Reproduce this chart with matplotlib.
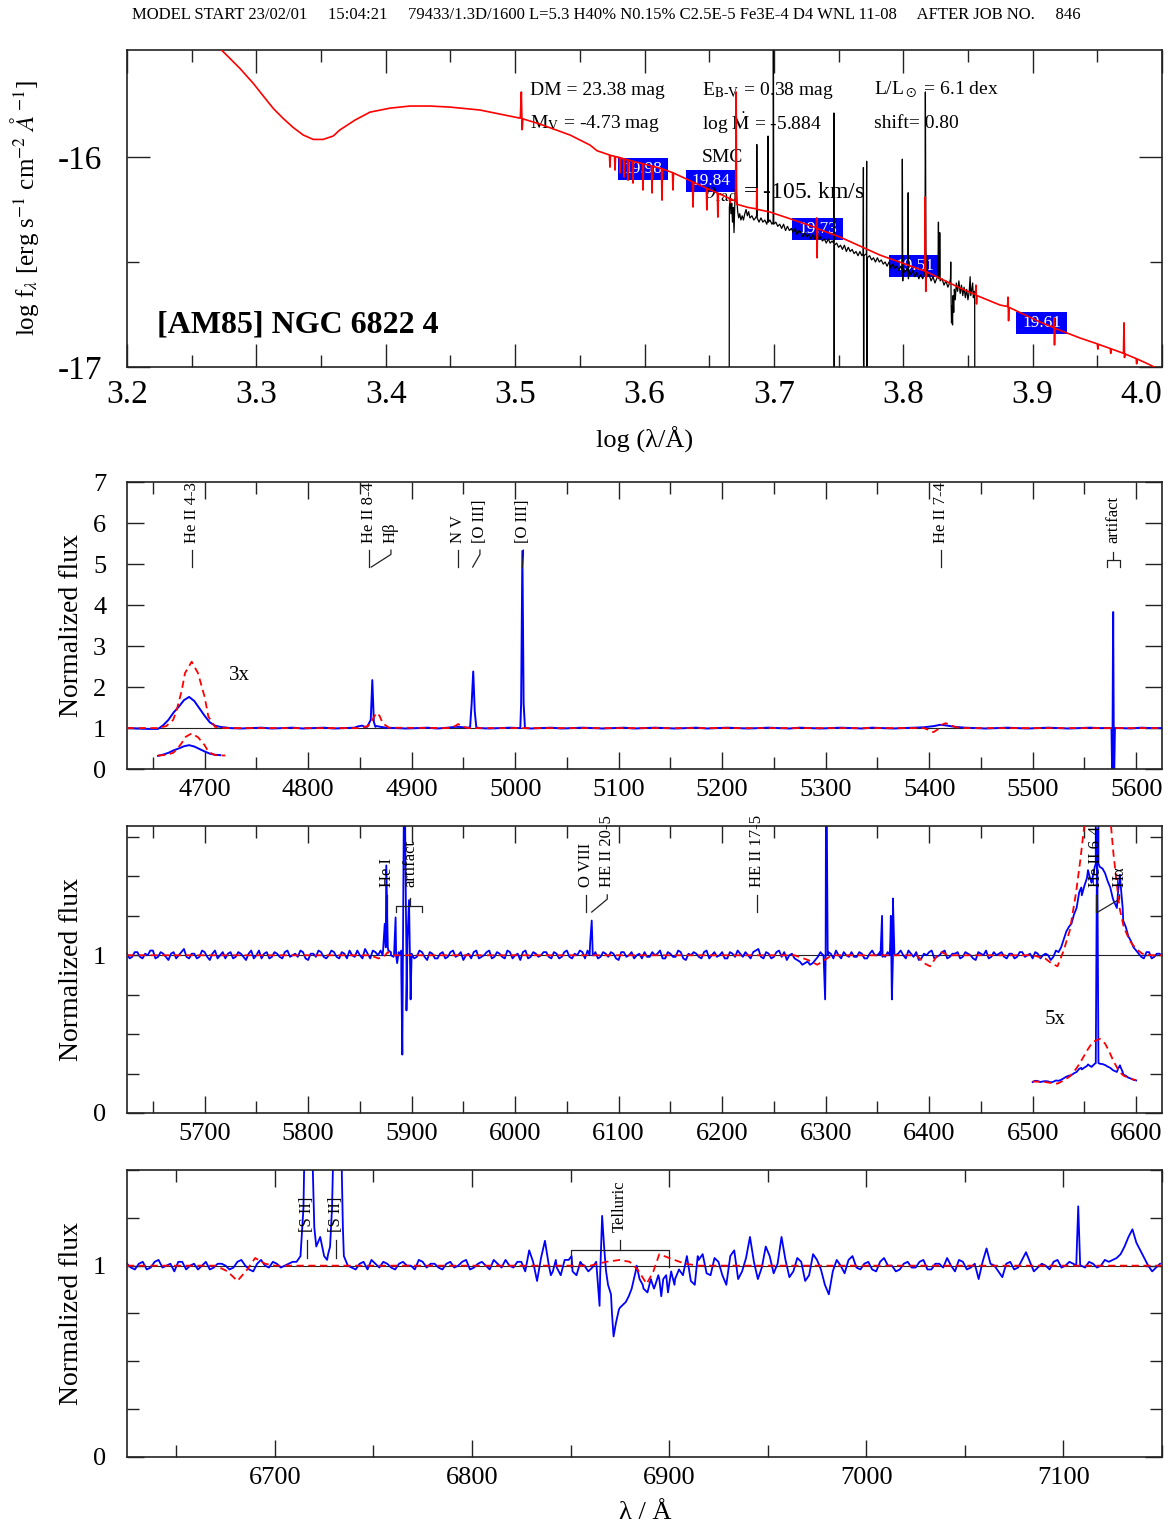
import matplotlib.pyplot as plt
from matplotlib.patches import Rectangle
import numpy as np

plt.rcParams['font.family'] = ['Liberation Serif', 'DejaVu Serif']
plt.rcParams['mathtext.fontset'] = 'stix'
plt.rcParams['axes.unicode_minus'] = False

HEADER = ("MODEL START 23/02/01     15:04:21     79433/1.3D/1600 L=5.3 H40% N0.15% "
          "C2.5E-5 Fe3E-4 D4 WNL 11-08     AFTER JOB NO.     846")
STAR = "[AM85] NGC 6822 4"

# ---------------- SED panel (log lambda, log f_lambda)
sed_logl = [3.2600, 3.2732, 3.2873, 3.2976, 3.3079, 3.3130, 3.3207, 3.3284, 3.3362, 3.3439,
            3.3516, 3.3593, 3.3645, 3.3762, 3.3878, 3.4033, 3.4187, 3.4342, 3.4497, 3.4728,
            3.4960, 3.5040, 3.5048, 3.5054, 3.5060, 3.5192, 3.5424, 3.5579, 3.5633,
            3.5729, 3.5733, 3.5737, 3.5768, 3.5772, 3.5776, 3.5807, 3.5811, 3.5815,
            3.5838, 3.5842, 3.5846, 3.5869, 3.5873, 3.5877, 3.5907, 3.5911, 3.5915,
            3.5984, 3.5988, 3.5992, 3.6054, 3.6058, 3.6062, 3.6131, 3.6135, 3.6139,
            3.6216, 3.6220, 3.6224, 3.6371, 3.6375, 3.6379, 3.6478, 3.6482, 3.6486,
            3.6563, 3.6567, 3.6571, 3.6656, 3.6660, 3.6664, 3.6704, 3.6708, 3.6712,
            3.6738, 3.6800, 3.6866, 3.6868, 3.6870, 3.6970, 3.7202,
            3.7328, 3.7331, 3.7334, 3.7337, 3.7511, 3.7820, 3.8129,
            3.8166, 3.8170, 3.8174, 3.8178, 3.8439, 3.8558, 3.8562, 3.8566, 3.8570,
            3.8748, 3.8806, 3.8810, 3.8814, 3.8818, 3.9057, 3.9161, 3.9165, 3.9169, 3.9173,
            3.9366, 3.9500, 3.9504, 3.9508, 3.9600, 3.9604, 3.9608,
            3.9702, 3.9706, 3.9710, 3.9714, 3.9800, 3.9804, 3.9808, 3.9907, 4.0000]
sed_logf = [-15.400, -15.491, -15.578, -15.649, -15.729, -15.768, -15.816, -15.859, -15.895, -15.916,
            -15.916, -15.900, -15.871, -15.824, -15.786, -15.767, -15.757, -15.757, -15.762, -15.776,
            -15.805, -15.815, -15.690, -15.870, -15.818, -15.843, -15.895, -15.943, -15.970,
            -15.990, -16.048, -15.992, -15.996, -16.062, -15.998, -16.002, -16.076, -16.004,
            -16.008, -16.095, -16.010, -16.013, -16.110, -16.015, -16.019, -16.124, -16.021,
            -16.031, -16.157, -16.033, -16.042, -16.171, -16.044, -16.055, -16.205, -16.057,
            -16.074, -16.157, -16.076, -16.118, -16.238, -16.120, -16.148, -16.252, -16.150,
            -16.171, -16.286, -16.173, -16.197, -16.219, -16.199, -16.210, -15.690, -16.225,
            -16.229, -16.240, -16.247, -16.150, -16.249, -16.262, -16.310,
            -16.337, -16.290, -16.480, -16.341, -16.381, -16.467, -16.535,
            -16.543, -16.190, -16.640, -16.546, -16.624, -16.655, -16.610, -16.700, -16.660,
            -16.705, -16.712, -16.667, -16.780, -16.716, -16.786, -16.812, -16.767, -16.895, -16.816,
            -16.862, -16.890, -16.915, -16.892, -16.912, -16.935, -16.914,
            -16.935, -16.790, -16.955, -16.938, -16.960, -16.985, -16.962, -16.990, -17.020]

obs_logl = [3.6654, 3.6656, 3.6662, 3.6668, 3.6674, 3.6680, 3.6686, 3.6692, 3.6698, 3.6704,
            3.6708, 3.6713, 3.6720, 3.6728, 3.6736, 3.6745, 3.6755, 3.6765, 3.6775, 3.6785,
            3.6795, 3.6805, 3.6815, 3.6830, 3.6845, 3.6858, 3.6866, 3.6868, 3.6871, 3.6885,
            3.6900, 3.6915, 3.6930, 3.6945, 3.6953, 3.6955, 3.6958, 3.6970, 3.6985, 3.6994,
            3.6996, 3.6999, 3.7015, 3.7030, 3.7045, 3.7060, 3.7075, 3.7090, 3.7105, 3.7120,
            3.7135, 3.7150, 3.7165, 3.7180, 3.7195, 3.7210, 3.7225, 3.7240, 3.7255, 3.7270,
            3.7285, 3.7300, 3.7315, 3.7331, 3.7345, 3.7360, 3.7375, 3.7390, 3.7405, 3.7420,
            3.7435, 3.7450, 3.7462, 3.7464, 3.7466, 3.7468, 3.7485, 3.7500, 3.7515, 3.7530,
            3.7545, 3.7560, 3.7575, 3.7590, 3.7605, 3.7620, 3.7635, 3.7650, 3.7665, 3.7680,
            3.7690, 3.7692, 3.7694, 3.7696, 3.7715, 3.7717, 3.7719, 3.7721, 3.7740, 3.7755,
            3.7770, 3.7785, 3.7800, 3.7815, 3.7830, 3.7845, 3.7860, 3.7875, 3.7890, 3.7905,
            3.7920, 3.7935, 3.7950, 3.7965, 3.7980, 3.7991, 3.7993, 3.7996, 3.7999, 3.8015,
            3.8030, 3.8036, 3.8038, 3.8040, 3.8043, 3.8060, 3.8075, 3.8090, 3.8105, 3.8120,
            3.8135, 3.8150, 3.8163, 3.8168, 3.8171, 3.8175, 3.8180, 3.8184, 3.8187, 3.8200,
            3.8215, 3.8230, 3.8245, 3.8258, 3.8268, 3.8272, 3.8275, 3.8280, 3.8282, 3.8285,
            3.8300, 3.8315, 3.8330, 3.8345, 3.8358, 3.8365, 3.8367, 3.8370, 3.8373, 3.8377,
            3.8381, 3.8385, 3.8390, 3.8395, 3.8402, 3.8410, 3.8420, 3.8430, 3.8440, 3.8450,
            3.8460, 3.8470, 3.8480, 3.8490, 3.8500, 3.8510, 3.8517, 3.8522, 3.8530, 3.8536,
            3.8542, 3.8548, 3.8552, 3.8554]
obs_logf = [-17.60, -16.24, -16.20, -16.27, -16.22, -16.31, -16.24, -16.36, -16.22, -16.17,
            -16.12, -16.19, -16.26, -16.29, -16.27, -16.30, -16.28, -16.30, -16.27, -16.25,
            -16.28, -16.26, -16.29, -16.28, -16.30, -16.29, -16.28, -15.94, -16.29, -16.31,
            -16.29, -16.31, -16.30, -16.32, -16.30, -15.90, -16.31, -16.30, -16.32, -16.31,
            -15.30, -16.32, -16.31, -16.33, -16.32, -16.34, -16.32, -16.35, -16.33, -16.35,
            -16.34, -16.36, -16.34, -16.37, -16.35, -16.36, -16.38, -16.36, -16.38, -16.37,
            -16.39, -16.37, -16.39, -16.35, -16.39, -16.38, -16.40, -16.39, -16.41, -16.39,
            -16.41, -16.40, -16.41, -15.79, -17.60, -16.42, -16.41, -16.43, -16.42, -16.44,
            -16.42, -16.45, -16.43, -16.45, -16.44, -16.46, -16.45, -16.47, -16.45, -16.47,
            -16.46, -16.05, -17.60, -16.47, -16.46, -16.02, -17.60, -16.48, -16.47, -16.49,
            -16.48, -16.50, -16.48, -16.50, -16.49, -16.51, -16.50, -16.52, -16.50, -16.53,
            -16.51, -16.53, -16.52, -16.54, -16.52, -16.54, -16.01, -16.59, -16.53, -16.55,
            -16.53, -16.55, -16.17, -16.58, -16.54, -16.56, -16.54, -16.57, -16.55, -16.58,
            -16.56, -16.58, -16.56, -16.45, -15.69, -16.44, -16.55, -16.49, -16.57, -16.56,
            -16.59, -16.57, -16.60, -16.58, -16.57, -16.31, -16.58, -16.56, -16.36, -16.59,
            -16.58, -16.61, -16.59, -16.62, -16.60, -16.58, -16.50, -16.69, -16.79, -16.71,
            -16.80, -16.66, -16.74, -16.63, -16.68, -16.60, -16.64, -16.59, -16.65, -16.61,
            -16.66, -16.62, -16.67, -16.63, -16.68, -16.64, -16.57, -16.66, -16.63, -16.60,
            -16.67, -16.64, -16.68, -17.60]

phot_logl = [3.5989, 3.6514, 3.7337, 3.8087, 3.9069]
phot_logf = [-16.057, -16.114, -16.343, -16.521, -16.790]
phot_mag = ["19.98", "19.84", "19.73", "19.51", "19.61"]

# ---------------- normalized spectrum 4625-5625
w2_base = np.arange(4625, 5626, 10)
f2_base = [1.00, 0.99, 0.98, 0.98, 1.20, 1.52, 1.76, 1.48, 1.14, 1.03,
           1.00, 0.99, 1.00, 1.01, 0.99, 1.00, 1.01, 0.99, 1.00, 1.01,
           0.99, 1.00, 1.01, 1.03, 1.03, 1.01, 1.00, 0.99, 1.00, 1.01,
           0.99, 1.01, 1.03, 1.01, 1.00, 0.99, 1.00, 1.01, 1.00, 0.99,
           1.00, 1.01, 0.99, 1.00, 1.01, 1.00, 0.99, 1.00, 1.01, 0.99,
           1.00, 1.01, 1.00, 0.99, 1.00, 1.01, 0.99, 1.00, 1.01, 1.00,
           0.99, 1.00, 1.01, 1.00, 0.99, 1.01, 1.00, 0.99, 1.00, 1.01,
           1.00, 0.99, 1.01, 1.00, 0.99, 1.00, 1.01, 1.02, 1.05, 1.07,
           1.03, 1.01, 1.00, 0.99, 1.00, 1.01, 1.00, 0.99, 1.00, 1.01,
           1.00, 0.99, 1.00, 1.01, 1.00, 1.00, 1.00, 0.99, 1.01, 1.00,
           1.00]
w2_lines = [4660, 4670, 4680, 4690, 4700, 4710, 4848, 4852, 4857, 4860.5, 4862, 4863.5,
            4866, 4870, 4942, 4956.5, 4958, 4959.5, 4961, 4962.5, 5005.8, 5007, 5008.2,
            5009.5, 5410.5, 5576.2, 5577.0, 5577.8, 5578.6, 5579.5]
f2_lines = [1.07, 1.38, 1.68, 1.66, 1.30, 1.06, 1.04, 1.06, 1.03, 1.20, 2.17, 1.15,
            1.05, 1.03, 1.03, 1.03, 1.60, 2.38, 1.40, 1.02, 1.60, 5.32, 1.60,
            1.00, 1.08, 1.00, -0.40, 3.83, -0.40, 1.00]
w2_model = [4625, 4655, 4663, 4669.6, 4673, 4678, 4681, 4687.5, 4693.6, 4700, 4703.6, 4710,
            4720, 4850, 4858, 4862, 4866, 4869, 4872, 4878, 4935, 4942, 4945, 4948, 4955,
            5395, 5400, 5404, 5408, 5412, 5416, 5420, 5426, 5435, 5625]
f2_model = [1.00, 1.00, 1.05, 1.20, 1.44, 1.93, 2.34, 2.62, 2.34, 1.76, 1.28, 1.03,
            1.00, 1.00, 1.05, 1.20, 1.37, 1.30, 1.12, 1.01, 1.00, 1.05, 1.10, 1.04, 1.00,
            1.00, 0.95, 0.90, 0.96, 1.08, 1.12, 1.08, 1.02, 1.00, 1.00]
id2_line = [4688, 4859, 4861, 4945, 4959, 5007, 5411]
id2_text = [4688, 4859, 4880, 4945, 4966, 5008, 5411]
id2_label = ["He II 4-3", "He II 8-4", "H\u03b2", "N V", "[O III]", "[O III]", "He II 7-4"]

# ---------------- normalized spectrum 5625-6625
w3_base = np.arange(5625, 6626, 5)
f3_base = [1.01, 0.99, 1.02, 0.98, 1.00, 1.03, 0.99, 1.01, 0.97, 1.02,
           1.00, 1.04, 0.98, 1.01, 0.99, 1.02, 0.97, 1.03, 1.00, 0.98,
           1.02, 0.99, 1.01, 0.97, 1.03, 1.00, 0.98, 1.02, 0.99, 1.01,
           0.98, 1.03, 1.00, 0.99, 1.02, 0.97, 1.01, 1.03, 0.99, 1.00,
           1.02, 0.98, 1.01, 1.03, 0.99, 1.00, 1.04, 0.98, 1.02, 1.03,
           1.05, 1.02, 1.00, 1.03, 0.98, 1.01, 0.99, 1.02, 0.97, 1.01,
           0.98, 1.02, 0.99, 1.03, 1.00, 0.97, 1.01, 1.02, 0.98, 1.00,
           1.03, 0.99, 1.01, 0.98, 1.02, 1.00, 0.97, 1.03, 0.99, 1.01,
           1.00, 1.02, 0.98, 1.01, 0.99, 1.03, 0.98, 1.00, 1.02, 1.03,
           1.00, 0.98, 1.02, 0.99, 1.01, 0.97, 1.02, 1.00, 0.98, 1.01,
           1.02, 0.99, 1.00, 1.03, 0.98, 1.01, 0.99, 1.02, 0.97, 1.00,
           1.01, 0.98, 1.03, 1.00, 0.99, 1.02, 0.98, 1.01, 1.03, 0.99,
           1.00, 1.02, 1.04, 0.98, 1.01, 0.99, 1.03, 1.02, 1.00, 0.98,
           0.96, 0.95, 0.94, 0.97, 1.02, 0.99, 1.01, 1.03, 0.98, 1.00,
           1.02, 0.99, 1.01, 0.98, 1.03, 1.00, 0.99, 1.02, 0.98, 1.01,
           1.00, 1.03, 0.99, 0.97, 1.01, 1.02, 0.98, 1.00, 1.03, 0.99,
           1.01, 0.98, 1.02, 1.00, 0.97, 1.01, 1.03, 0.99, 1.00, 1.02,
           0.98, 1.01, 0.99, 1.02, 1.00, 0.98, 1.01, 1.00, 1.00, 0.99,
           1.02, 1.10, 1.18, 1.26, 1.40, 1.44, 1.50, 1.56, 1.56, 1.52,
           1.43, 1.32, 1.45, 1.18, 1.09, 1.03, 0.99, 1.02, 0.98, 1.01,
           1.00]
w3_mid = np.arange(5627.5, 6625, 5)
f3_mid = [0.98, 1.02, 0.99, 1.01, 1.03, 0.98, 1.02, 0.99, 1.01, 0.98,
          1.02, 0.99, 1.01, 0.98, 1.03, 0.99, 1.01, 0.98, 1.02, 1.01,
          0.98, 1.02, 0.99, 1.01, 0.98, 1.03, 1.01, 0.98, 1.02, 0.99,
          1.02, 0.99, 1.01, 1.03, 0.98, 1.01, 0.99, 1.02, 0.98, 1.03,
          0.99, 1.02, 0.98, 1.00, 1.03, 0.98, 1.01, 1.03, 1.00, 1.04,
          1.03, 0.99, 1.02, 2.00, 1.35, 0.98, 1.03, 0.99, 1.02, 0.98,
          1.01, 0.98, 1.02, 0.99, 1.02, 1.00, 0.98, 1.03, 0.99, 1.02,
          0.98, 1.02, 0.99, 1.03, 0.98, 1.01, 1.02, 0.98, 1.02, 0.99,
          1.02, 0.99, 1.02, 0.98, 1.02, 0.99, 1.01, 1.03, 0.98, 1.08,
          1.02, 0.99, 1.01, 1.02, 0.98, 1.02, 0.99, 1.02, 1.00, 0.98,
          0.99, 1.02, 1.01, 0.98, 1.02, 0.99, 1.03, 0.98, 1.01, 1.02,
          0.99, 1.02, 0.98, 1.02, 1.00, 0.98, 1.02, 0.99, 1.01, 1.02,
          0.98, 1.03, 0.99, 1.02, 0.98, 1.02, 0.99, 0.97, 1.01, 0.97,
          0.94, 0.96, 0.95, 0.99, 1.00, 1.02, 0.98, 1.00, 1.02, 0.99,
          0.99, 1.02, 0.98, 1.01, 1.00, 1.02, 0.99, 1.10, 1.00, 1.03,
          0.98, 1.01, 1.02, 0.98, 1.00, 1.03, 0.99, 1.02, 0.98, 1.01,
          1.02, 0.99, 1.01, 0.98, 1.02, 1.00, 0.98, 1.02, 1.01, 0.99,
          1.01, 0.98, 1.02, 0.99, 1.01, 1.02, 0.98, 1.01, 0.97, 1.03,
          1.05, 1.15, 1.20, 1.30, 1.38, 1.49, 1.48, 8.00, 1.55, 1.47,
          1.36, 1.40, 1.22, 1.12, 1.05, 1.01, 0.98, 1.02, 0.99, 1.01]
w3_lines = [5872, 5874, 5875.5, 5877, 5880, 5883, 5884.5, 5886, 5888, 5890, 5891, 5892,
            5893, 5894, 5895, 5896, 5897.5, 5899, 5900.5, 6072, 6074, 6076,
            6298, 6299.5, 6300.5, 6302, 6353, 6354.5, 6356, 6362, 6363, 6364, 6365, 6366.5,
            6547, 6553.5, 6557, 6561, 6562.3, 6563.6, 6578, 6581.4, 6584.4, 6587]
f3_lines = [1.00, 1.20, 1.57, 1.05, 1.00, 1.00, 1.24, 0.95, 1.00, 0.90, 0.37, 1.40,
            2.50, 1.60, 0.65, 1.10, 1.35, 0.72, 1.00, 1.00, 1.22, 1.00,
            1.00, 0.72, 2.50, 1.00, 1.00, 1.25, 1.00, 1.00, 1.25, 0.72, 1.36, 1.00,
            1.43, 1.54, 1.46, 1.58, 9.00, 1.58, 1.35, 1.30, 1.51, 1.30]
w3_model = [5625, 5860, 5868, 5873, 5877, 5882, 6270, 6283, 6292, 6299, 6306,
            6388, 6395, 6401, 6407, 6412, 6418, 6500, 6512, 6518, 6524, 6530, 6536,
            6542, 6546, 6549, 6553, 6558, 6565, 6570, 6574, 6578, 6581, 6584, 6588,
            6594, 6600, 6606, 6615, 6625]
f3_model = [1.00, 1.00, 0.98, 0.99, 1.02, 1.00, 1.00, 0.97, 0.94, 0.97, 1.00,
            1.00, 0.95, 0.93, 0.99, 1.02, 1.00, 1.00, 0.98, 0.95, 0.93, 1.03, 1.16,
            1.40, 1.60, 1.77, 2.00, 2.25, 2.35, 2.20, 1.95, 1.65, 1.47, 1.30, 1.18,
            1.09, 1.04, 1.01, 1.00, 1.00]
id3_line = [5876, 6068, 6074, 6234, 6561, 6563]
id3_text = [5876, 6068, 6089, 6234, 6561, 6584]
id3_label = ["He I", "O VIII", "HE II 20-5", "HE II 17-5", "He II 6-4", "H\u03b1"]

# ---------------- normalized spectrum 6625-7150
w4_base = np.arange(6625, 7150, 4)
f4_base = [1.01, 0.98, 1.02, 0.99, 1.03, 1.00, 0.97, 1.02, 1.00, 0.98,
           1.02, 0.99, 1.01, 0.98, 1.02, 1.00, 0.97, 1.03, 0.99, 1.01,
           1.00, 1.02, 1.05, 2.00, 1.10, 1.05, 1.30, 2.00, 1.00, 0.98,
           1.02, 1.03, 0.99, 1.01, 0.98, 1.02, 1.00, 1.03, 0.99, 1.01,
           0.98, 1.02, 1.00, 1.03, 0.99, 1.02, 0.98, 1.01, 1.03, 0.99,
           1.02, 1.08, 0.92, 1.13, 0.97, 0.95, 1.03, 0.95, 1.00, 0.99,
           0.95, 0.90, 0.70, 0.80, 0.88, 0.93, 0.86, 0.90, 0.93, 0.97,
           0.98, 1.05, 0.90, 1.06, 0.95, 1.02, 0.90, 1.08, 0.97, 1.15,
           0.93, 1.10, 0.96, 1.15, 0.94, 1.04, 0.92, 1.06, 0.98, 0.85,
           1.03, 0.96, 1.05, 0.98, 1.02, 0.97, 1.04, 1.00, 0.98, 1.02,
           0.99, 1.03, 0.98, 1.01, 1.04, 0.97, 1.02, 0.99, 0.93, 1.09,
           1.00, 0.94, 1.02, 0.99, 1.07, 0.97, 1.01, 0.98, 1.03, 1.00,
           1.01, 1.00, 1.02, 0.99, 1.03, 1.03, 1.06, 1.15, 1.12, 1.04,
           0.97, 1.01]
w4_mid = np.arange(6627, 7148, 4)
f4_mid = [0.99, 1.01, 0.98, 1.02, 0.99, 1.01, 1.02, 0.98, 1.01, 1.00,
          0.98, 1.01, 1.00, 0.99, 1.03, 0.98, 1.01, 1.00, 1.02, 0.99,
          1.01, 1.02, 1.60, 1.60, 1.15, 1.06, 2.00, 1.05, 0.99, 1.01,
          0.98, 1.01, 1.02, 0.99, 1.01, 1.00, 0.98, 1.02, 1.01, 0.99,
          1.01, 0.99, 1.02, 0.98, 1.01, 1.00, 1.03, 0.99, 1.00, 1.02,
          0.97, 1.02, 1.04, 1.00, 0.99, 1.03, 0.97, 1.02, 0.97, 1.02,
          1.10, 0.75, 0.78, 0.83, 0.97, 0.88, 0.92, 0.93, 0.90, 0.93,
          0.95, 0.92, 1.03, 0.96, 1.04, 0.95, 1.05, 0.93, 1.04, 1.02,
          0.99, 1.05, 1.01, 1.03, 0.97, 1.02, 0.95, 1.03, 0.90, 0.97,
          1.00, 1.03, 0.99, 1.01, 0.98, 1.02, 1.00, 0.97, 1.01, 0.99,
          1.02, 0.98, 1.01, 0.99, 1.00, 1.03, 0.98, 1.01, 1.02, 1.01,
          0.97, 1.01, 0.98, 1.03, 1.02, 0.99, 1.00, 1.02, 0.99, 1.02,
          1.15, 0.99, 1.01, 1.00, 1.02, 1.04, 1.10, 1.19, 1.08, 1.00,
          0.99]
w4_lines = [6714.5, 6716, 6718.5, 6720, 6723, 6726.5, 6728, 6730.5, 6734.5,
            6840, 6842.5, 6850.5, 6855.5, 6863, 6864.7, 6866, 6868, 6870.5, 6871.8,
            6874.5, 6876, 6878, 6879.5, 6883.5, 6886.6, 6890.7, 6892.3, 6894.5, 6896,
            6898.5, 6899.4, 6902.7, 6907, 6911, 6914.5, 7106.5, 7107.5, 7108.5, 7135]
f4_lines = [1.30, 2.00, 2.00, 1.20, 1.15, 1.03, 1.10, 2.00, 1.20,
            0.95, 1.03, 1.05, 1.01, 1.02, 0.79, 1.26, 0.97, 0.85, 0.63,
            0.77, 0.79, 0.81, 0.84, 1.00, 0.90, 0.93, 0.88, 0.95, 0.84,
            0.95, 0.86, 0.90, 0.95, 0.92, 1.05, 1.00, 1.31, 1.00, 1.19]
w4_model = [6625, 6670, 6676, 6681, 6686, 6690, 6695, 6700, 6860, 6868, 6875, 6880,
            6884, 6888.6, 6892, 6895, 6900, 6908, 6915, 7150]
f4_model = [1.00, 1.00, 0.97, 0.92, 0.98, 1.04, 1.01, 1.00, 1.00, 1.02, 1.03, 1.02,
            0.98, 0.905, 0.97, 1.06, 1.04, 1.01, 1.00, 1.00]
id4_line = [6716.4, 6730.8]
id4_label = ["[S II]", "[S II]"]

BLUE = '#0000ff'
RED = '#ff0000'
DASH = (0, (4, 2.5))


def merged(*pairs):
    w = np.concatenate([np.asarray(p[0], float) for p in pairs])
    f = np.concatenate([np.asarray(p[1], float) for p in pairs])
    o = np.argsort(w, kind='stable')
    return w[o], f[o]


def frame(ax, major, minor, lsize, pad_x, pad_y):
    for s in ax.spines.values():
        s.set_linewidth(1.2)
        s.set_color('#222222')
    ax.tick_params(which='both', direction='in', top=True, right=True,
                   colors='#222222', labelcolor='black', width=1.0)
    ax.tick_params(which='major', length=major, labelsize=lsize)
    ax.tick_params(which='minor', length=minor)
    ax.tick_params(axis='x', pad=pad_x)
    ax.tick_params(axis='y', pad=pad_y)


def line_id(ax, x_line, x_text, label, y_lo=0.70, y_hi=0.76, y_text=0.787):
    tr = ax.get_xaxis_transform()
    if x_line == x_text:
        ax.plot([x_line, x_line], [y_lo, y_hi], color='#222222', lw=0.9, transform=tr)
    else:
        ax.plot([x_line, x_text, x_text], [y_lo, y_hi - 0.015, y_hi],
                color='#222222', lw=0.9, transform=tr)
    ax.text(x_text, y_text, label, rotation=90, ha='center', va='bottom',
            fontsize=12, transform=tr)


def bracket(ax, x0, x1, xs, label, y_leg, y_bar, y_stem, y_text=0.787):
    tr = ax.get_xaxis_transform()
    ax.plot([x0, x0, x1, x1], [y_leg, y_bar, y_bar, y_leg], color='#222222', lw=0.9, transform=tr)
    ax.plot([xs, xs], [y_bar, y_stem], color='#222222', lw=0.9, transform=tr)
    ax.text(xs, y_text, label, rotation=90, ha='center', va='bottom', fontsize=12, transform=tr)


fig = plt.figure(figsize=(11.76, 15.29), dpi=100)
fig.text(132 / 1176, 1 - 15 / 1529, HEADER, ha='left', va='center', fontsize=12)

# ================= panel 1: SED
ax1 = fig.add_axes([0.1080, 0.7600, 0.8801, 0.2073])
for lx, lf, mag in zip(phot_logl, phot_logf, phot_mag):
    ax1.add_patch(Rectangle((lx - 0.0194, lf - 0.0525), 0.0388, 0.105,
                            facecolor=BLUE, edgecolor='none', zorder=1))
    ax1.text(lx, lf, mag, color='white', ha='center', va='center', fontsize=12.5, zorder=1.1)
ax1.plot(obs_logl, obs_logf, color='black', lw=0.9, zorder=2)
ax1.plot(sed_logl, sed_logf, color=RED, lw=1.2, zorder=3)
ax1.set_xlim(3.2, 4.0)
ax1.set_ylim(-17, -15.49)
ax1.set_xticks(np.arange(3.2, 4.01, 0.1), [f"{v:.1f}" for v in np.arange(3.2, 4.01, 0.1)])
ax1.set_xticks(np.arange(3.25, 4.0, 0.1), minor=True)
ax1.set_yticks([-17, -16], ["-17", "-16"])
ax1.set_yticks([-16.5], minor=True)
frame(ax1, 16.5, 8.6, 24, 9, 18)
ax1.get_xticklabels()[-1].set_horizontalalignment('right')

tkw = dict(fontsize=14, va='center', ha='left', zorder=1.5)
ax1.text(3.5115, -15.681, "DM = 23.38 mag", **tkw)
ax1.text(3.5115, -15.838, r"M$_{\rm V}$ = -4.73 mag", **tkw)
ax1.text(3.6444, -15.681, r"E$_{\rm B\text{-}V}$ = 0.38 mag", **tkw)
ax1.text(3.6444, -15.838, r"log $\dot{\rm M}$ = -5.884", **tkw)
ax1.text(3.6444, -16.000, "SMC", **tkw)
ax1.text(3.6460, -16.167, r"$\upsilon_{\rm rad}$ = -105. km/s", fontsize=17, va='center',
         ha='left', zorder=1.5)
ax1.text(3.7774, -15.681, r"L/L$_\odot$ = 6.1 dex", **tkw)
ax1.text(3.7774, -15.838, "shift= 0.80", **tkw)
ax1.text(3.2232, -16.80, STAR, fontsize=23, fontweight='bold', ha='left', va='center')

fig.text(645 / 1176, 1 - 440 / 1529, "log (\u03bb/\u00c5)", ha='center', va='center', fontsize=19)
fig.text(25 / 1176, 1 - 208 / 1529,
         r"log f$_\lambda$ [erg s$^{-1}$ cm$^{-2}$ $\AA^{-1}$]",
         rotation=90, ha='center', va='center', fontsize=18)

# ================= panel 2
ax2 = fig.add_axes([0.1080, 0.4970, 0.8801, 0.1877])
w2, f2 = merged((w2_base, f2_base), (w2_lines, f2_lines))
ax2.axhline(1, color='#222222', lw=0.8, zorder=1)
ax2.plot(w2, f2, color=BLUE, lw=1.4, zorder=2)
ax2.plot(w2_model, f2_model, color=RED, lw=1.3, ls=DASH, zorder=3)
m2 = np.asarray(w2_model)
s2 = (w2 >= 4650) & (w2 <= 4722)
s2m = (m2 >= 4650) & (m2 <= 4722)
ax2.plot(w2[s2], 0.33 + (f2[s2] - 1) / 3, color=BLUE, lw=1.4, zorder=2)
ax2.plot(m2[s2m], 0.33 + (np.asarray(f2_model)[s2m] - 1) / 3, color=RED, lw=1.3,
         ls=DASH, zorder=3)
ax2.text(4734, 2.29, "3x", fontsize=15, ha='center', va='center')
ax2.set_xlim(4625, 5625)
ax2.set_ylim(0, 7)
ax2.set_xticks(np.arange(4700, 5601, 100))
ax2.set_xticks(np.arange(4650, 5626, 50), minor=True)
ax2.set_yticks(range(8))
frame(ax2, 12, 8.5, 19, 7, 15)
for xl, xt, lab in zip(id2_line, id2_text, id2_label):
    line_id(ax2, xl, xt, lab, y_lo=0.704, y_hi=0.763, y_text=0.787)
bracket(ax2, 5571.5, 5584.4, 5577.6, "artifact", 0.704, 0.728, 0.757)

# ================= panel 3
ax3 = fig.add_axes([0.1080, 0.2721, 0.8801, 0.1877])
w3, f3 = merged((w3_base, f3_base), (w3_mid, f3_mid), (w3_lines, f3_lines))
ax3.axhline(1, color='#222222', lw=0.8, zorder=1)
ax3.plot(w3, f3, color=BLUE, lw=1.3, zorder=2)
ax3.plot(w3_model, f3_model, color=RED, lw=1.3, ls=DASH, zorder=3)
m3 = np.asarray(w3_model)
s3 = (w3 >= 6500) & (w3 <= 6600)
s3m = (m3 >= 6500) & (m3 <= 6600)
ax3.plot(w3[s3], 0.2 + (f3[s3] - 1) / 5, color=BLUE, lw=1.3, zorder=2)
ax3.plot(m3[s3m], 0.2 + (np.asarray(f3_model)[s3m] - 1) / 5, color=RED, lw=1.3,
         ls=DASH, zorder=3)
ax3.text(6522, 0.59, "5x", fontsize=15, ha='center', va='center')
ax3.set_xlim(5625, 6625)
ax3.set_ylim(0, 1.82)
ax3.set_xticks(np.arange(5700, 6601, 100))
ax3.set_xticks(np.arange(5650, 6626, 50), minor=True)
ax3.set_yticks([0, 1])
ax3.set_yticks(np.arange(0, 1.81, 0.25), minor=True)
frame(ax3, 12, 8.5, 19, 7, 15)
for xl, xt, lab in zip(id3_line, id3_text, id3_label):
    line_id(ax3, xl, xt, lab, y_lo=0.700, y_hi=0.760, y_text=0.787)
bracket(ax3, 5885, 5910, 5898.5, "artifact", 0.700, 0.721, 0.749)

# ================= panel 4
ax4 = fig.add_axes([0.1080, 0.0471, 0.8801, 0.1877])
w4, f4 = merged((w4_base, f4_base), (w4_mid, f4_mid), (w4_lines, f4_lines))
ax4.axhline(1, color='#222222', lw=0.8, zorder=1)
ax4.plot(w4, f4, color=BLUE, lw=1.3, zorder=2)
ax4.plot(w4_model, f4_model, color=RED, lw=1.3, ls=DASH, zorder=3)
ax4.set_xlim(6625, 7150)
ax4.set_ylim(0, 1.5)
ax4.set_xticks(np.arange(6700, 7101, 100))
ax4.set_xticks(np.arange(6650, 7151, 50), minor=True)
ax4.set_yticks([0, 1])
ax4.set_yticks(np.arange(0, 1.51, 0.25), minor=True)
frame(ax4, 12, 8.5, 19, 7, 15)
for xl, lab in zip(id4_line, id4_label):
    line_id(ax4, xl, xl, lab, y_lo=0.693, y_hi=0.756, y_text=0.784)
bracket(ax4, 6850, 6900, 6875, "Telluric", 0.662, 0.721, 0.756, y_text=0.784)

for ax in (ax2, ax3, ax4):
    pos = ax.get_position()
    fig.text(72 / 1176, (pos.y0 + pos.y1) / 2, "Normalized flux", rotation=90,
             ha='center', va='center', fontsize=20)
fig.text(645 / 1176, 1 - 1513 / 1529, "\u03bb / \u00c5", ha='center', va='center', fontsize=19)

fig.savefig("out.png", dpi=100)
